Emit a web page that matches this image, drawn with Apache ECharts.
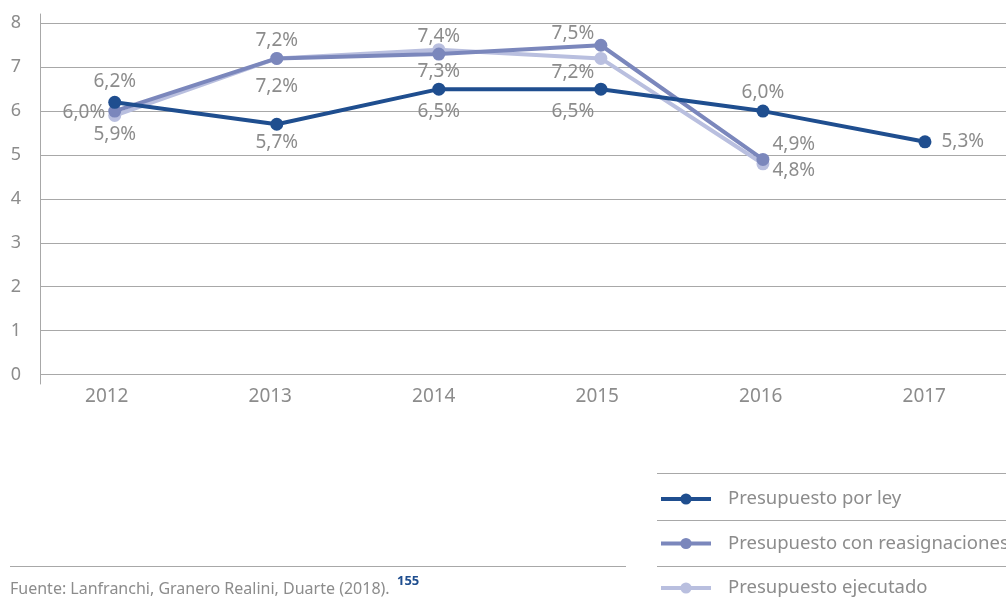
<!DOCTYPE html>
<html>
<head>
<meta charset="utf-8">
<script src="https://cdn.jsdelivr.net/npm/echarts@6/dist/echarts.min.js"></script>
<style>
  html, body { margin: 0; padding: 0; background: #ffffff; }
  #chart { width: 1006px; height: 605px; }
</style>
</head>
<body>
<div id="chart"></div>
<script>
// Budget share by year (percent)
const years = ['2012', '2013', '2014', '2015', '2016', '2017'];
const yTicks = [0, 1, 2, 3, 4, 5, 6, 7, 8];
const porLey = [6.2, 5.7, 6.5, 6.5, 6.0, 5.3];
const conReasignaciones = [6.0, 7.2, 7.3, 7.5, 4.9, null];
const ejecutado = [5.9, 7.2, 7.4, 7.2, 4.8, null];
const seriesNames = ['Presupuesto por ley', 'Presupuesto con reasignaciones', 'Presupuesto ejecutado'];
const sourceText = 'Fuente: Lanfranchi, Granero Realini, Duarte (2018).';
const noteRef = '155';

// Where each value label sits relative to its point, plus a small nudge in px
const placeLey = ['top', 'bottom', 'bottom', 'bottom', 'top', 'right'];
const placeReas = ['left', 'top', 'bottom', 'top', 'right', null];
const placeEjec = ['bottom', 'bottom', 'top', 'bottom', 'right', null];
const shiftLey = [[0, -2], [0, -1], [0, 3], [-28, 3], [0, 0], [7, 0]];
const shiftReas = [[0, 1], [0, 1], [0, -1], [-28, 7], [0, -15], null];
const shiftEjec = [[0, 0], [0, 9], [0, 6], [-28, -5], [0, 7], null];

const FONT = 'Noto Sans';
const GREY_TEXT = '#8c8c8c';
const GREY_LINE = '#a8a8a8';
const C_LEY = '#1f4e8f';
const C_REAS = '#7b87bc';
const C_EJEC = '#b9bfdf';

const fmt = v => v.toFixed(1).replace('.', ',') + '%';

function buildData(values, places, shifts) {
  return values.map((v, i) => {
    if (v === null) return null;
    const label = { position: places[i] };
    if (shifts && shifts[i]) label.offset = shifts[i];
    return { value: v, label: label };
  });
}

function lineSeries(name, color, values, places, shifts, z) {
  return {
    name: name,
    type: 'line',
    xAxisIndex: 0,
    yAxisIndex: 0,
    z: z,
    data: buildData(values, places, shifts),
    symbol: 'circle',
    symbolSize: 13,
    lineStyle: { color: color, width: 4 },
    itemStyle: { color: color },
    label: {
      show: true,
      distance: 3,
      color: GREY_TEXT,
      fontFamily: FONT,
      fontSize: 19,
      formatter: p => fmt(p.value)
    },
    emphasis: { disabled: true },
    animation: false
  };
}

const chart = echarts.init(document.getElementById('chart'), null, { renderer: 'canvas' });

chart.setOption({
  backgroundColor: '#ffffff',
  textStyle: { fontFamily: FONT },
  grid: [
    { left: 33.7, width: 975.6, top: 23.3, height: 351.2 },
    { left: 40, right: 0, top: 23.3, height: 351.2 },
    { left: 25, width: 1000, top: 14, height: 370 }
  ],
  xAxis: [
    { gridIndex: 0, type: 'category', data: years, show: false },
    { gridIndex: 1, type: 'category', data: years, show: false },
    {
      gridIndex: 2, type: 'category', data: years,
      axisLine: { show: false }, axisTick: { show: false }, splitLine: { show: false },
      axisLabel: { color: GREY_TEXT, fontFamily: FONT, fontSize: 19, margin: 3 }
    }
  ],
  yAxis: [
    { gridIndex: 0, type: 'value', min: yTicks[0], max: yTicks[yTicks.length - 1], show: false },
    {
      gridIndex: 1, type: 'value', min: yTicks[0], max: yTicks[yTicks.length - 1], interval: 1,
      axisLine: { show: false }, axisTick: { show: false },
      splitLine: { show: true, lineStyle: { color: GREY_LINE, width: 1 } },
      axisLabel: { color: GREY_TEXT, fontFamily: FONT, fontSize: 18, margin: 19 }
    },
    {
      gridIndex: 2, type: 'value', min: 0, max: 1, offset: -15,
      axisLine: { show: true, lineStyle: { color: GREY_LINE, width: 1 } },
      axisTick: { show: false }, axisLabel: { show: false }, splitLine: { show: false }
    }
  ],
  legend: {
    orient: 'vertical',
    left: 659,
    top: 489,
    padding: 0,
    itemWidth: 50,
    itemHeight: 14,
    itemGap: 24.5,
    data: seriesNames,
    selectedMode: false,
    lineStyle: { width: 4 },
    textStyle: { color: GREY_TEXT, fontFamily: FONT, fontSize: 18.5, lineHeight: 20, padding: [0, 0, 0, 12] }
  },
  graphic: [
    { type: 'line', shape: { x1: 657, y1: 473.5, x2: 1006, y2: 473.5 }, style: { stroke: GREY_LINE, lineWidth: 1 } },
    { type: 'line', shape: { x1: 657, y1: 520.5, x2: 1006, y2: 520.5 }, style: { stroke: GREY_LINE, lineWidth: 1 } },
    { type: 'line', shape: { x1: 657, y1: 566.5, x2: 1006, y2: 566.5 }, style: { stroke: GREY_LINE, lineWidth: 1 } },
    { type: 'line', shape: { x1: 10, y1: 566.5, x2: 626, y2: 566.5 }, style: { stroke: GREY_LINE, lineWidth: 1 } },
    {
      type: 'text', left: 10, top: 581,
      style: { text: sourceText, fill: GREY_TEXT, font: '16px "Noto Sans"' }
    },
    {
      type: 'text', left: 397, top: 575,
      style: { text: noteRef, fill: C_LEY, font: 'bold 13px "Noto Sans"' }
    }
  ],
  series: [
    lineSeries(seriesNames[0], C_LEY, porLey, placeLey, shiftLey, 4),
    lineSeries(seriesNames[1], C_REAS, conReasignaciones, placeReas, shiftReas, 3),
    lineSeries(seriesNames[2], C_EJEC, ejecutado, placeEjec, shiftEjec, 2)
  ]
});
</script>
</body>
</html>
